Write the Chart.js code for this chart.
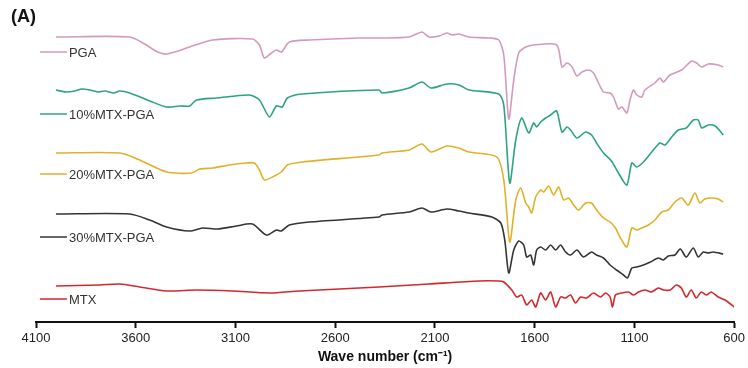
<!DOCTYPE html>
<html>
<head>
<meta charset="utf-8">
<script src="https://cdn.jsdelivr.net/npm/chart.js@4.4.1/dist/chart.umd.min.js"></script>
<style>
  html, body { margin: 0; padding: 0; background: #fff; }
  #wrap { width: 748px; height: 368px; }
</style>
</head>
<body>
<div id="wrap"><canvas id="ftir"></canvas></div>
<script>
// series names and colours
var seriesNames = ["PGA", "10%MTX-PGA", "20%MTX-PGA", "30%MTX-PGA", "MTX"];
var seriesColors = ["#d49abb", "#2ca57c", "#e0b128", "#353535", "#d2292e"];

// x tick labels (wave number, cm-1)
var tickValues = [4100, 3600, 3100, 2600, 2100, 1600, 1100, 600];

// each spectrum: wave numbers + stacked transmittance (a.u., offset)
var pgaWn = [4000,3630,3555,3490,3445,3330,3215,3015,2980,2955,2920,2895,2870,2830,2730,2480,2365,2230,2165,2130,2080,2040,2015,1980,1930,1830,1780,1755,1730,1705,1680,1645,1605,1490,1463,1438,1413,1388,1363,1330,1305,1280,1255,1222,1205,1180,1163,1138,1122,1105,1088,1063,1047,997,972,955,922,863,813,788,763,730,680,655];
var pgaT  = [285,285,278,270,268,275,282,283,277,264,269,272,270,280,282,284,284,285,290,285,286,289,287,288,285,284,282,267,203,242,269,275,277,277,255,259,255,246,250,252,249,239,230,229,225,213,215,209,222,232,227,225,232,239,244,240,247,252,261,259,255,258,257,255];

var m10Wn = [4000,3950,3905,3870,3830,3790,3755,3710,3680,3630,3530,3445,3380,3330,3295,3195,3030,2980,2930,2895,2865,2840,2765,2380,2365,2230,2165,2120,2040,1980,1930,1780,1755,1725,1695,1665,1630,1605,1590,1570,1545,1520,1490,1463,1438,1420,1388,1345,1315,1290,1255,1215,1180,1138,1113,1088,1055,1005,972,947,913,880,840,805,780,763,730,695,655];
var m10T  = [232,230,231,233,232,230,231,229,231,229,221,215,216,216,222,224,227,222,205,216,215,224,228,232,229,234,240,234,238,237,232,228,217,139,182,204,189,199,195,200,204,207,211,190,195,192,184,190,187,179,169,161,149,137,159,155,160,172,179,177,185,192,194,202,202,194,197,196,187];

var m20Wn = [4000,3680,3580,3445,3320,3280,3215,3130,3045,3005,2980,2955,2905,2870,2840,2765,2380,2365,2230,2165,2120,2040,1980,1930,1790,1755,1725,1695,1670,1645,1630,1615,1595,1570,1555,1530,1505,1480,1455,1430,1405,1380,1345,1315,1290,1255,1222,1195,1170,1138,1113,1088,1063,1030,997,963,930,897,863,830,797,772,747,713,680,655];
var m20T  = [169,169,162,150,149,153,154,157,159,159,152,142,146,150,157,160,167,169,172,178,170,176,174,170,165,142,80,122,134,119,115,109,125,132,130,136,127,135,122,124,117,112,119,119,112,104,100,94,84,75,94,92,94,97,102,110,112,120,124,117,129,119,123,124,123,120];

var m30Wn = [4000,3630,3530,3445,3330,3265,3190,3095,3015,2945,2895,2870,2830,2730,2380,2365,2230,2165,2120,2040,1980,1930,1815,1770,1750,1730,1705,1680,1655,1640,1620,1605,1590,1570,1545,1520,1495,1470,1445,1420,1388,1355,1315,1290,1255,1222,1190,1155,1135,1113,1088,1055,1020,980,955,930,897,870,840,805,780,755,730,705,655];
var m30T  = [108,108,102,95,91,94,93,96,98,87,92,91,97,100,105,107,110,114,110,113,111,109,105,99,82,49,72,81,77,65,67,57,72,75,72,77,72,77,70,67,72,65,70,67,64,57,52,47,44,54,55,57,60,64,62,66,67,73,65,74,65,70,69,70,68];

var mtxWn = [4000,3780,3680,3580,3445,3295,3115,2930,2780,2380,2130,1880,1780,1755,1715,1690,1665,1640,1615,1595,1570,1545,1520,1495,1470,1445,1420,1395,1370,1340,1305,1270,1245,1222,1210,1195,1165,1130,1105,1080,1047,1015,980,955,920,890,865,840,815,790,765,740,715,680,645,600];
var mtxT  = [36,37,38,35,31,32,31,29,31,35,38,41,41,40,32,25,27,17,22,15,29,22,30,15,25,24,27,19,25,24,29,25,29,25,15,27,29,30,27,30,32,30,34,32,32,37,34,25,32,24,30,27,30,25,22,15];

var allWn = [pgaWn, m10Wn, m20Wn, m30Wn, mtxWn];
var allT  = [pgaT, m10T, m20T, m30T, mtxT];

// where each inline label sits (data coords: wave number, transmittance)
var labelPos = [[4080, 270], [4080, 208], [4080, 148], [4080, 85], [4080, 23]];

var inlineLabels = {
	id: "inlineLabels",
	afterDatasetsDraw: function(chart) {
		var ctx = chart.ctx;
		var xs = chart.scales.x, ys = chart.scales.y;
		ctx.save();
		for (var i = 0; i < seriesNames.length; i++) {
			var x0 = xs.getPixelForValue(labelPos[i][0]);
			var x1 = xs.getPixelForValue(3945);
			var y = ys.getPixelForValue(labelPos[i][1]);
			ctx.strokeStyle = seriesColors[i];
			ctx.lineWidth = 1.5;
			ctx.beginPath();
			ctx.moveTo(x0, y);
			ctx.lineTo(x1, y);
			ctx.stroke();
			ctx.fillStyle = "#333";
			ctx.font = "13px 'Liberation Sans', Arial, sans-serif";
			ctx.textBaseline = "middle";
			ctx.fillText(seriesNames[i], x1 + 2, y + 1);
		}
		// panel letter
		ctx.fillStyle = "#111";
		ctx.font = "bold 18px 'Liberation Sans', Arial, sans-serif";
		ctx.textBaseline = "top";
		ctx.fillText("(A)", 11, 8);
		ctx.restore();
	}
};

var datasets = [];
for (var i = 0; i < seriesNames.length; i++) {
	var pts = [];
	for (var j = 0; j < allWn[i].length; j++) {
		pts.push({ x: allWn[i][j], y: allT[i][j] });
	}
	datasets.push({
		label: seriesNames[i],
		data: pts,
		borderColor: seriesColors[i],
		borderWidth: 1.6,
		pointRadius: 0,
		tension: 0.25,
		fill: false
	});
}

var axisFont = "'Liberation Sans', Arial, sans-serif";

new Chart(document.getElementById("ftir").getContext("2d"), {
	type: "line",
	data: { datasets: datasets },
	plugins: [inlineLabels],
	options: {
		responsive: true,
		maintainAspectRatio: false,
		animation: false,
		layout: { padding: { left: 36, right: 13, top: 12, bottom: 0 } },
		plugins: { legend: { display: false }, tooltip: { enabled: false } },
		scales: {
			x: {
				type: "linear",
				reverse: true,
				min: 600,
				max: 4100,
				afterBuildTicks: function(axis) {
					axis.ticks = tickValues.map(function(v) { return { value: v }; });
				},
				afterFit: function(axis) { axis.height = 46; },
				grid: { drawOnChartArea: false, drawTicks: true, tickLength: 6, tickWidth: 2, color: "#111" },
				border: { color: "#111", width: 2 },
				ticks: {
					color: "#222", padding: 3, maxRotation: 0,
					font: { family: axisFont, size: 13 },
					callback: function(v) { return String(v); }
				},
				title: {
					display: true,
					text: "Wave number (cm\u207B\u00B9)",
					color: "#111",
					padding: { top: 2, bottom: 2 },
					font: { family: axisFont, size: 14, weight: "bold" }
				}
			},
			y: { display: false, min: 0, max: 310 }
		}
	}
});
</script>
</body>
</html>
